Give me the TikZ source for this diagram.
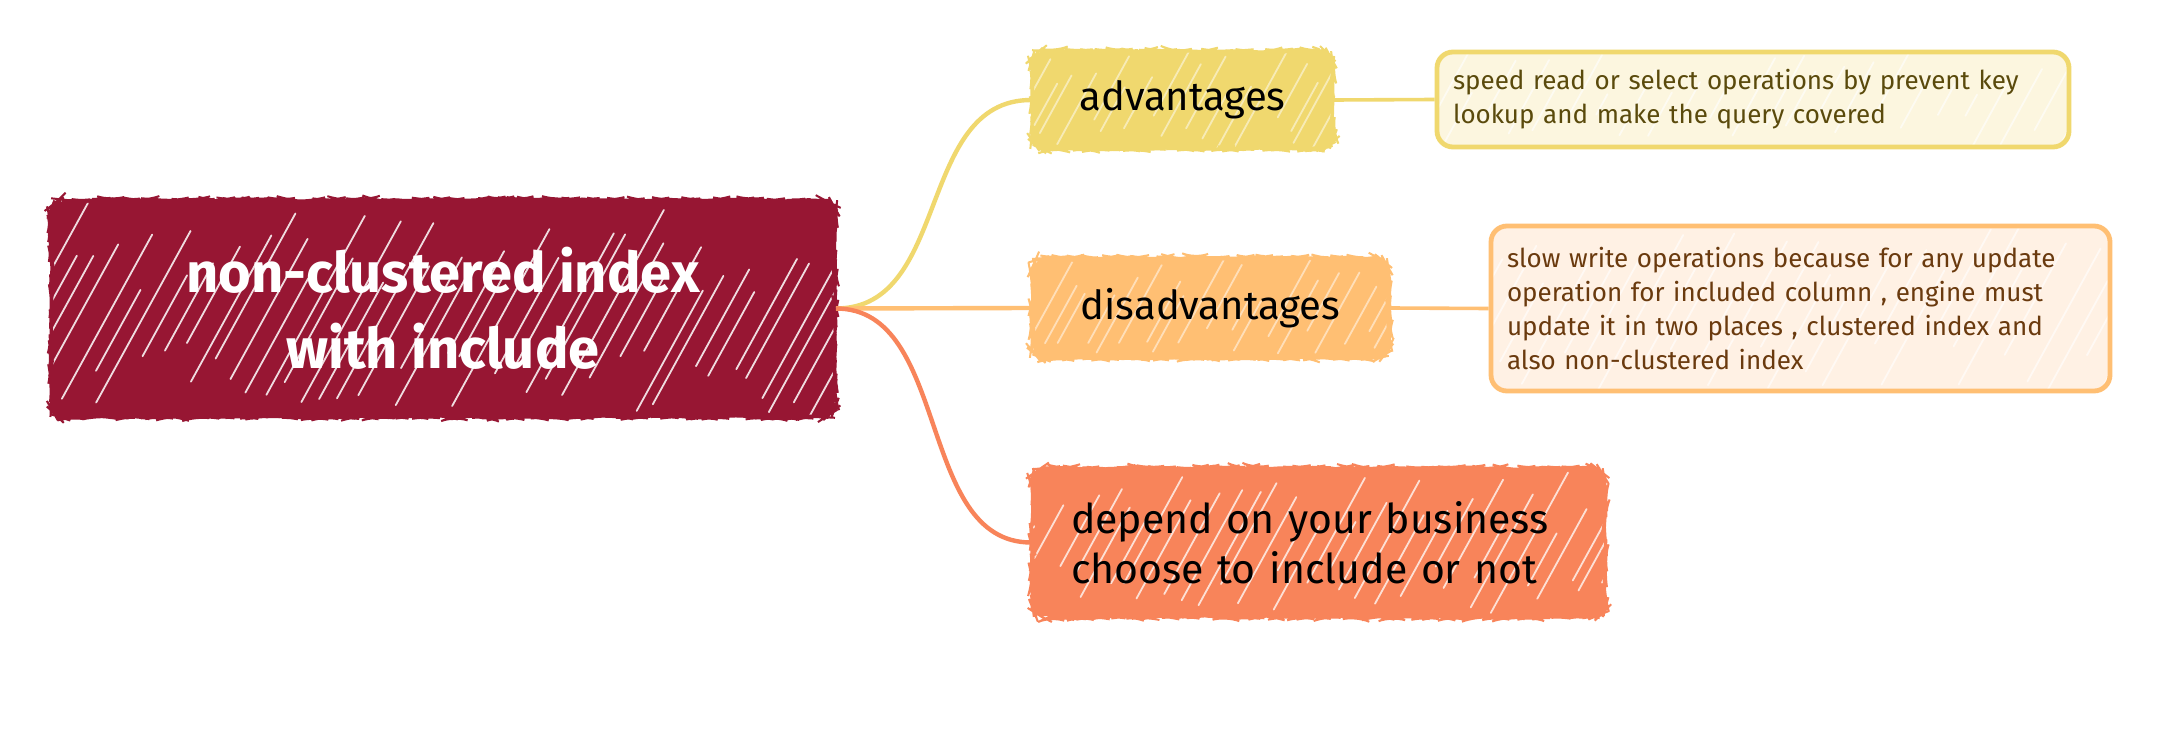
\documentclass[tikz,border=0pt]{standalone}
\usepackage{fontspec}
\setmainfont{Fira Sans}
\usetikzlibrary{decorations.pathmorphing}
\definecolor{rootc}{HTML}{971633}
\definecolor{advc}{HTML}{F0D86E}
\definecolor{disc}{HTML}{FFBF73}
\definecolor{depc}{HTML}{F8845A}
\definecolor{advlt}{HTML}{FCF6DF}
\definecolor{dislt}{HTML}{FFF1E4}
\definecolor{advtx}{HTML}{5A4A0C}
\definecolor{distx}{HTML}{6A3A0E}
\newcommand\hatchpp[2]{%
  \pgfpointanchor{path picture bounding box}{south west}\pgfgetlastxy\hxa\hya
  \pgfpointanchor{path picture bounding box}{north east}\pgfgetlastxy\hxb\hyb
  \pgfmathsetmacro\hh{\hyb-\hya}%
  \pgfmathtruncatemacro\nn{(\hxb-\hxa+0.55*\hh)/#1}%
  \foreach \k in {0,...,\nn}{%
    \pgfmathsetmacro\xs{\hxa-0.55*\hh+\k*#1+3*rand}%
    \pgfmathsetmacro\ta{0.35*rnd}%
    \pgfmathsetmacro\tb{0.55+0.45*rnd}%
    \draw[white,opacity=#2,line width=0.9pt,line cap=round]
      ({\xs pt+\ta*0.55*\hh pt},{\hya+\ta*\hh pt}) --
      ({\xs pt+\tb*0.55*\hh pt},{\hya+\tb*\hh pt});
  }}
\pgfmathsetseed{11}
\begin{document}
\begin{tikzpicture}[x=0.5pt,y=-0.5pt,
  rough/.style={decorate,decoration={random steps,segment length=2.5pt,amplitude=0.5pt}},
  mainbox/.style={rounded corners=7pt,line width=1pt,rough,inner sep=0pt},
  sidebox/.style={rounded corners=8pt,line width=2.4pt,inner xsep=8pt,inner ysep=0pt,align=left,
    font=\fontsize{13}{17}\selectfont},
  conn/.style={line width=2.2pt},
  conn2/.style={line width=1.8pt}]
\fill[white] (0,0) rectangle (2160,738);
\useasboundingbox (0,0) rectangle (2160,738);

\node[mainbox,fill=rootc,draw=rootc,minimum width=392pt,minimum height=108.5pt,text=white,
  font=\bfseries\fontsize{28}{38}\selectfont,align=center,
  path picture={\hatchpp{10}{0.85}}] (root) at (443,308.5) {non-clustered index\\with include};

\node[mainbox,fill=advc,draw=advc,minimum width=150.5pt,minimum height=49pt,
  font=\fontsize{20}{25}\selectfont,path picture={\hatchpp{10}{0.5}}] (adv) at (1182.5,100) {advantages};

\node[mainbox,fill=disc,draw=disc,minimum width=178.5pt,minimum height=50pt,
  font=\fontsize{20}{25}\selectfont,path picture={\hatchpp{10}{0.5}}] (dis) at (1210.5,308) {disadvantages};

\node[mainbox,fill=depc,draw=depc,minimum width=286.5pt,minimum height=74.5pt,align=left,
  inner xsep=19.5pt,text width=247.5pt,
  font=\fontsize{20.5}{25}\selectfont,path picture={\hatchpp{10}{0.75}}] (dep) at (1318.5,542.5)
  {depend on your business\\choose to include or not};

\node[sidebox,fill=advlt,draw=advc,text=advtx,text width=300pt,minimum height=47.5pt,
  path picture={\hatchpp{14}{0.6}}] (speed) at (1753,99.5)
  {speed read or select operations by prevent key\\lookup and make the query covered};

\node[sidebox,fill=dislt,draw=disc,text=distx,text width=293.5pt,minimum height=82.5pt,
  path picture={\hatchpp{14}{0.6}}] (slow) at (1800.5,308.5)
  {slow write operations because for any update\\operation for included column , engine must\\update it in two places , clustered index and\\also non-clustered index};

\draw[conn,advc] (root.east) .. controls +(115,0) and +(-115,0) .. (adv.west);
\draw[conn,disc] (root.east) -- (dis.west);
\draw[conn,depc] (root.east) .. controls +(115,0) and +(-115,0) .. (dep.west);
\draw[conn2,advc] (adv.east) -- (speed.west);
\draw[conn2,disc] (dis.east) -- (slow.west);
\end{tikzpicture}
\end{document}
